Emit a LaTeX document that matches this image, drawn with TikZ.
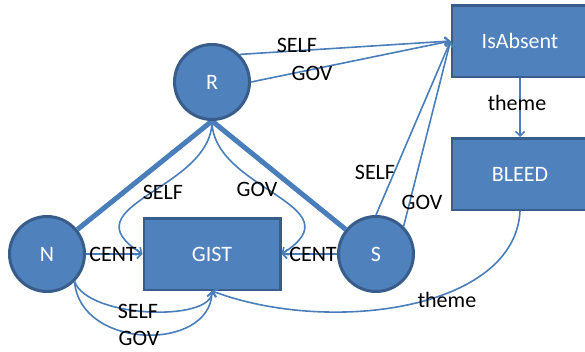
\documentclass[tikz,border=0pt]{standalone}
\usepackage{fontspec}
\setmainfont{Carlito}
\usetikzlibrary{arrows.meta}
\definecolor{boxfill}{HTML}{4F81BD}
\definecolor{boxline}{HTML}{385D8A}
\definecolor{edgeblue}{HTML}{4A7EBB}
\begin{document}
\begin{tikzpicture}[x=1pt,y=-1pt,
  every node/.style={font=\fontsize{22}{26}\selectfont},
  ent/.style={circle, fill=boxfill, draw=boxline, line width=3pt,
    minimum size=75pt, inner sep=0pt, text=white},
  rel/.style={rectangle, fill=boxfill, draw=boxline, line width=2.5pt,
    minimum width=136.5pt, minimum height=71.5pt, inner sep=0pt, text=white},
  link/.style={draw=edgeblue, line width=1.6pt,
    -{Straight Barb[length=4.5pt,width=9pt,line width=1.6pt]}},
  tie/.style={draw=edgeblue, line width=5pt},
  lbl/.style={text=black, inner sep=0pt}
]
\useasboundingbox (0,0) rectangle (585,351);

% thick ties from R to its two children (drawn first, behind the nodes)
\coordinate (rfoot) at (212,121);
\node[ent] (N) at (47,254) {N};
\node[ent] (S) at (376,254) {S};
\draw[tie] (rfoot) -- (N);
\draw[tie] (rfoot) -- (S);

% entities and relations
\node[ent] (R) at (212,82) {R};
\node[rel] (GIST) at (212,254) {GIST};
\node[rel] (IsAbsent) at (520,41) {IsAbsent};
\node[rel] (BLEED) at (520,174) {BLEED};

% R to GIST
\draw[link] (R.south) .. controls (212,190) and (65,205) .. (GIST.west);
\draw[link] (R.south) .. controls (212,190) and (359,205) .. (GIST.east);

% CENT arrows
\draw[link] (N.east) -- (GIST.west);
\draw[link] (S.west) -- (GIST.east);

% N to GIST underneath
\draw[link] (N.-45) .. controls (88,318) and (210,322) .. (GIST.south);
\draw[link] (N.-45) .. controls (80,350) and (210,352) .. (GIST.south);

% into IsAbsent
\draw[link] (R.45) -- (IsAbsent.west);
\draw[link] (R.east) -- (IsAbsent.west);
\draw[link] (S.north) -- (IsAbsent.west);
\draw[link] (S.45) -- (IsAbsent.west);

% theme links
\draw[link] (IsAbsent.south) -- (BLEED.north);
\draw[link] (BLEED.south) .. controls (515,310) and (330,335) .. (GIST.south);

% edge labels
\node[lbl] (lRselfA) at (297,45) {SELF};
\node[lbl] (lRgovA) at (312,73) {GOV};
\node[lbl] (lSselfA) at (375,172) {SELF};
\node[lbl] (lSgovA) at (422,202) {GOV};
\node[lbl] (lThemeB) at (517,103) {theme};
\node[lbl] (lThemeG) at (447,300) {theme};
\node[lbl] (lRselfG) at (163,192) {SELF};
\node[lbl] (lRgovG) at (257,189) {GOV};
\node[lbl] (lNcent) at (113,254) {CENT};
\node[lbl] (lScent) at (313,254) {CENT};
\node[lbl] (lNself) at (138,311) {SELF};
\node[lbl] (lNgov) at (139,338) {GOV};
\end{tikzpicture}
\end{document}
